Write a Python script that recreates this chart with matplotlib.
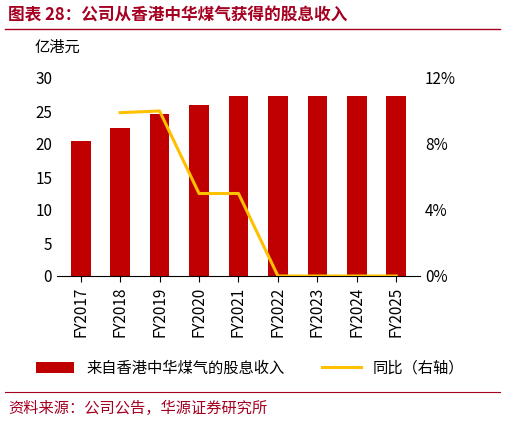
import matplotlib
matplotlib.use("Agg")
import matplotlib.pyplot as plt
import numpy as np

plt.rcParams['font.family'] = ['Noto Sans CJK SC', 'DejaVu Sans']

years = ["FY2017","FY2018","FY2019","FY2020","FY2021","FY2022","FY2023","FY2024","FY2025"]
dividend = [20.4, 22.5, 24.6, 25.9, 27.2, 27.2, 27.2, 27.2, 27.2]
yoy_years = ["FY2018","FY2019","FY2020","FY2021","FY2022","FY2023","FY2024","FY2025"]
yoy = [9.9, 10.0, 5.0, 5.0, 0.0, 0.0, 0.0, 0.0]

W, H = 506, 422
fig = plt.figure(figsize=(W/100, H/100), dpi=100)
ax = fig.add_axes([57/W, 1-276/H, 363/W, 198/H])
x = np.arange(len(years))
ax.bar(x, dividend, width=0.5, color='#C00000', label='来自香港中华煤气的股息收入')
ax.set_ylim(0, 30)
ax.set_yticks(range(0, 31, 5))
ax.set_xlim(-0.6, len(years)-0.4)
ax.set_xticks(x)
ax.set_xticklabels(years, rotation=90, fontsize=11)
ax.tick_params(axis='y', labelsize=11, length=0)
ax.tick_params(axis='x', length=4)
for s in ['top', 'right', 'left']:
    ax.spines[s].set_visible(False)

ax2 = ax.twinx()
xi = [years.index(y) for y in yoy_years]
ax2.plot(xi, yoy, color='#FFC000', lw=2.2, label='同比（右轴）')
ax2.set_ylim(0, 12)
ax2.set_yticks([0, 4, 8, 12])
ax2.set_yticklabels(['0%', '4%', '8%', '12%'])
ax2.tick_params(axis='y', labelsize=11, length=0)
for s in ['top', 'right', 'left', 'bottom']:
    ax2.spines[s].set_visible(False)

fig.text(57/W, 1-52/H, '亿港元', fontsize=11, ha='center')
fig.text(8/W, 1-16/H, '图表 28：公司从香港中华煤气获得的股息收入', fontsize=12,
         fontweight='bold', color='#A50021', va='center')
fig.add_artist(plt.Line2D([5/W, 500/W], [1-29/H, 1-29/H], color='#A50021', lw=1))

h1, l1 = ax.get_legend_handles_labels()
h2, l2 = ax2.get_legend_handles_labels()
fig.legend(h1+h2, l1+l2, loc='center', bbox_to_anchor=(250/W, 1-368/H), ncol=2,
           frameon=False, fontsize=11, handlelength=2.5, columnspacing=2.5)
fig.add_artist(plt.Line2D([5/W, 500/W], [1-392/H, 1-392/H], color='#A50021', lw=0.8))
fig.text(8/W, 1-408/H, '资料来源：公司公告，华源证券研究所', fontsize=11,
         color='#A50021', va='center')
fig.savefig('out.png', dpi=100)
